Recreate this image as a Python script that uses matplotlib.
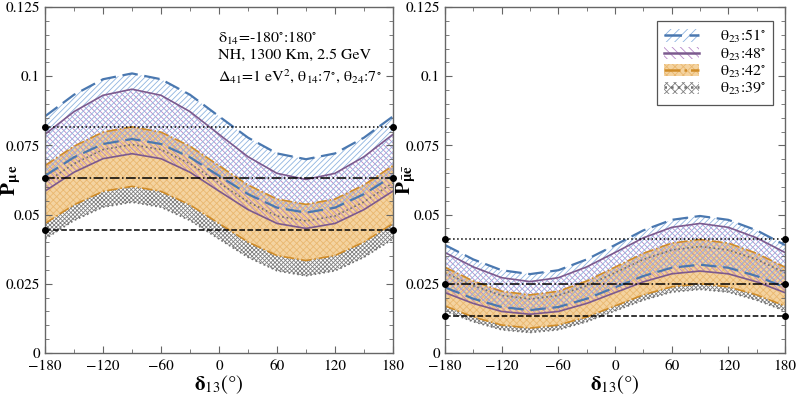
import matplotlib
matplotlib.use("Agg")
import matplotlib.pyplot as plt
from matplotlib.patches import Patch
from matplotlib.lines import Line2D
from matplotlib.legend_handler import HandlerTuple
from matplotlib.ticker import MultipleLocator, FixedLocator, FixedFormatter

plt.rcParams["font.family"] = ["STIXGeneral", "DejaVu Serif"]
plt.rcParams["mathtext.fontset"] = "stix"
plt.rcParams["hatch.linewidth"] = 0.6

# delta_13 grid (degrees)
delta13 = [-180, -150, -120, -90, -60, -30, 0, 30, 60, 90, 120, 150, 180]

# neutrino panel: upper / lower band edges for each theta_23
nu_51_hi = [0.0855, 0.0933, 0.0989, 0.1010, 0.0989, 0.0933, 0.0855, 0.0778, 0.0721, 0.0700, 0.0721, 0.0778, 0.0855]
nu_51_lo = [0.0640, 0.0707, 0.0755, 0.0773, 0.0755, 0.0707, 0.0640, 0.0574, 0.0525, 0.0507, 0.0525, 0.0574, 0.0640]
nu_48_hi = [0.0790, 0.0872, 0.0931, 0.0953, 0.0931, 0.0872, 0.0790, 0.0709, 0.0649, 0.0627, 0.0649, 0.0709, 0.0790]
nu_48_lo = [0.0585, 0.0653, 0.0702, 0.0720, 0.0702, 0.0653, 0.0585, 0.0518, 0.0468, 0.0450, 0.0468, 0.0518, 0.0585]
nu_42_hi = [0.0677, 0.0747, 0.0798, 0.0817, 0.0798, 0.0747, 0.0677, 0.0607, 0.0556, 0.0537, 0.0556, 0.0607, 0.0677]
nu_42_lo = [0.0468, 0.0535, 0.0584, 0.0602, 0.0584, 0.0535, 0.0468, 0.0401, 0.0352, 0.0334, 0.0352, 0.0401, 0.0468]
nu_39_hi = [0.0615, 0.0684, 0.0735, 0.0753, 0.0735, 0.0684, 0.0615, 0.0546, 0.0495, 0.0477, 0.0495, 0.0546, 0.0615]
nu_39_lo = [0.0412, 0.0479, 0.0527, 0.0545, 0.0527, 0.0479, 0.0412, 0.0346, 0.0297, 0.0279, 0.0297, 0.0346, 0.0412]
nu_ref = [0.0817, 0.0633, 0.0444]   # dotted, dash-dot, dashed

# antineutrino panel
an_51_hi = [0.0390, 0.0338, 0.0299, 0.0285, 0.0299, 0.0338, 0.0390, 0.0443, 0.0481, 0.0495, 0.0481, 0.0443, 0.0390]
an_51_lo = [0.0237, 0.0196, 0.0166, 0.0155, 0.0166, 0.0196, 0.0237, 0.0278, 0.0308, 0.0319, 0.0308, 0.0278, 0.0237]
an_48_hi = [0.0363, 0.0311, 0.0272, 0.0258, 0.0272, 0.0311, 0.0363, 0.0416, 0.0454, 0.0468, 0.0454, 0.0416, 0.0363]
an_48_lo = [0.0218, 0.0179, 0.0150, 0.0140, 0.0150, 0.0179, 0.0218, 0.0257, 0.0286, 0.0296, 0.0286, 0.0257, 0.0218]
an_42_hi = [0.0310, 0.0260, 0.0223, 0.0210, 0.0223, 0.0260, 0.0310, 0.0360, 0.0397, 0.0410, 0.0397, 0.0360, 0.0310]
an_42_lo = [0.0170, 0.0130, 0.0101, 0.0090, 0.0101, 0.0130, 0.0170, 0.0210, 0.0239, 0.0250, 0.0239, 0.0210, 0.0170]
an_39_hi = [0.0290, 0.0243, 0.0208, 0.0195, 0.0208, 0.0243, 0.0290, 0.0338, 0.0372, 0.0385, 0.0372, 0.0338, 0.0290]
an_39_lo = [0.0152, 0.0113, 0.0084, 0.0074, 0.0084, 0.0113, 0.0152, 0.0191, 0.0220, 0.0230, 0.0220, 0.0191, 0.0152]
an_ref = [0.0411, 0.0249, 0.01325]

theta_labels = ["51", "48", "42", "39"]
xticks = [-180, -120, -60, 0, 60, 120, 180]
xtick_labels = ["\u2212180", "\u2212120", "\u221260", "0", "60", "120", "180"]
yticks = [0, 0.025, 0.05, 0.075, 0.1, 0.125]
ytick_labels = ["0", "0.025", "0.05", "0.075", "0.1", "0.125"]

# styles: (line colour, hatch colour, face, hatch, linestyle)
styles = {
    "51": ("#4a78b0", "#8fb4e0", "none", "//////", (0, (7, 3))),
    "48": ("#7c5a8e", "#b888c8", "none", "\\\\\\\\\\\\", "-"),
    "42": ("#d08c28", "#eab870", "#f4d3a0", "xxxxx", "-."),
    "39": ("#707070", "#808080", "none", "xxxxxxxx", ":"),
}
frame_col = "#666666"


def draw_panel(ax, bands, refs):
    for key in ["39", "42", "48", "51"]:
        hi, lo = bands[key]
        lc, hc, fc, hatch, ls = styles[key]
        if fc != "none":
            ax.fill_between(delta13, lo, hi, facecolor=fc, edgecolor="none", linewidth=0)
        ax.fill_between(delta13, lo, hi, facecolor="none", hatch=hatch,
                        edgecolor=hc, linewidth=0)
    for key in ["39", "42", "48", "51"]:
        hi, lo = bands[key]
        lc, hc, fc, hatch, ls = styles[key]
        lw = 1.6 if key == "51" else 1.2
        ax.plot(delta13, hi, color=lc, ls=ls, lw=lw)
        ax.plot(delta13, lo, color=lc, ls=ls, lw=lw)

    for val, ls in zip(refs, [":", "-.", "--"]):
        ax.plot([-180, 180], [val, val], color="black", ls=ls, lw=1.1,
                marker="o", ms=4, clip_on=False, zorder=5)

    ax.set_xlim(-180, 180)
    ax.set_ylim(0, 0.125)
    ax.xaxis.set_major_locator(FixedLocator(xticks))
    ax.xaxis.set_major_formatter(FixedFormatter(xtick_labels))
    ax.xaxis.set_minor_locator(MultipleLocator(30))
    ax.yaxis.set_major_locator(FixedLocator(yticks))
    ax.yaxis.set_major_formatter(FixedFormatter(ytick_labels))
    ax.yaxis.set_minor_locator(MultipleLocator(0.005))
    ax.tick_params(which="both", direction="in", top=True, right=True,
                   color=frame_col, labelsize=11)
    ax.tick_params(which="major", length=5)
    ax.tick_params(which="minor", length=3)
    ax.tick_params(axis="x", pad=5)
    for sp in ax.spines.values():
        sp.set_color(frame_col)
        sp.set_linewidth(1.0)
    ax.set_xlabel(r"$\mathbf{\delta}_{\mathrm{13}}$(°)", fontsize=15, labelpad=0)


fig = plt.figure(figsize=(7.97, 3.99), dpi=100)
ax1 = fig.add_axes([45 / 797, 46 / 399, 348 / 797, 346 / 399])
ax2 = fig.add_axes([445 / 797, 46 / 399, 340 / 797, 346 / 399])

draw_panel(ax1, {"51": (nu_51_hi, nu_51_lo), "48": (nu_48_hi, nu_48_lo),
                 "42": (nu_42_hi, nu_42_lo), "39": (nu_39_hi, nu_39_lo)}, nu_ref)
draw_panel(ax2, {"51": (an_51_hi, an_51_lo), "48": (an_48_hi, an_48_lo),
                 "42": (an_42_hi, an_42_lo), "39": (an_39_hi, an_39_lo)}, an_ref)

ax1.set_ylabel(r"$\mathbf{P}_{\mathbf{\mu\, e}}$", fontsize=15)
ax2.set_ylabel(r"$\mathbf{P}_{\bar{\mathbf{\mu}}\bar{\mathbf{e}}}$", fontsize=15)
ax1.yaxis.set_label_coords(-0.064, 0.5)
ax2.yaxis.set_label_coords(-0.078, 0.5)

ax1.text(0.497, 0.935, r"$\mathrm{\delta_{14}}$=-180$^{\circ}$:180$^{\circ}$", transform=ax1.transAxes,
         fontsize=11.5, va="top")
ax1.text(0.497, 0.88, "NH, 1300 Km, 2.5 GeV", transform=ax1.transAxes, fontsize=11.5, va="top")
ax1.text(0.497, 0.825,
         r"$\mathrm{\Delta_{41}}$=1 eV$^{2}$, $\mathrm{\theta_{14}}$:7$^{\circ}$, $\mathrm{\theta_{24}}$:7$^{\circ}$",
         transform=ax1.transAxes, fontsize=11.5, va="top")

handles = []
for key in theta_labels:
    lc, hc, fc, hatch, ls = styles[key]
    p = Patch(facecolor=fc if fc != "none" else "white", edgecolor=hc, hatch=hatch[:4], linewidth=0)
    ln = Line2D([], [], color=lc, ls=ls, lw=1.8)
    handles.append((p, ln))
labels = [r"$\mathrm{\theta_{23}}$:" + k + r"$^{\circ}$" for k in theta_labels]
leg = ax2.legend(handles, labels, handler_map={tuple: HandlerTuple(ndivide=1)},
                 loc="upper right", bbox_to_anchor=(0.965, 0.96), borderaxespad=0,
                 fontsize=11.5, frameon=True, fancybox=False, edgecolor="#555555",
                 handlelength=2.2, handleheight=0.8, labelspacing=0.05, borderpad=0.45,
                 handletextpad=1.3, framealpha=1)
leg.get_frame().set_linewidth(0.9)

fig.savefig("out.png", dpi=100)
